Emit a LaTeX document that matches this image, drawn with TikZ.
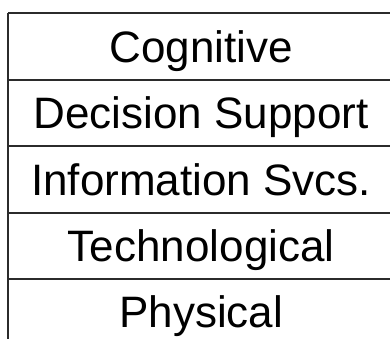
\documentclass[tikz,border=0pt]{standalone}
\usepackage{fontspec}
\setmainfont{Liberation Sans}
\usetikzlibrary{positioning}
\definecolor{rule}{HTML}{2B2B2B}
\tikzset{
    every node/.style={font=\fontsize{44}{44}\selectfont},
    layer/.style={inner sep=0pt, minimum width=386pt, minimum height=66pt,
        text height=31.5pt, text depth=0pt},
    border/.style={draw=rule, line width=2pt}
}

\begin{document}
\begin{tikzpicture}[
            x = 1pt, y = -1pt, % work in pixels, y pointing down
            node distance = 0pt
        ]
        \useasboundingbox (0,0) rectangle (390,339);

        \node[layer, anchor = north west] at (8,13.3) (cog) {Cognitive};
        \node[layer] [below=of cog] (dec) {Decision Support};
        \node[layer] [below=of dec] (info) {Information Svcs.};
        \node[layer] [below=of info] (tech) {Technological};
        \node[layer] [below=of tech] (phys) {Physical};

        % row separators
        \foreach \n in {cog, dec, info, tech, phys}
            \draw[border] (\n.north west) -- (\n.north east);
        % left edge
        \draw[border] (cog.north west) -- (phys.south west);

\end{tikzpicture}
\end{document}
